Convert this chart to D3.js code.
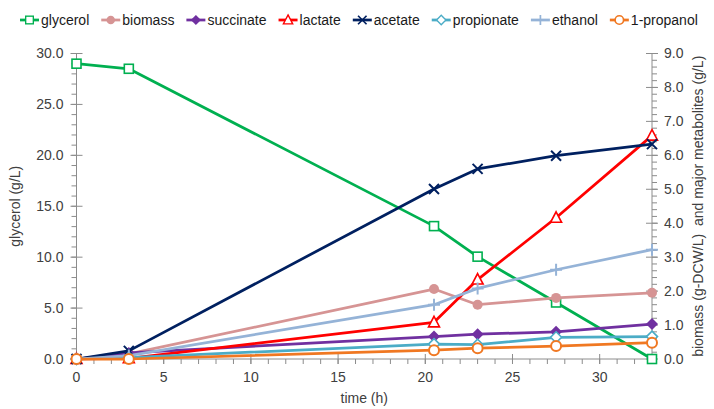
<!DOCTYPE html>
<html>
<head>
<meta charset="utf-8">
<script src="https://cdn.jsdelivr.net/npm/d3@7"></script>
<style>
  body { margin: 0; background: #fff; }
  text { font-family: "Liberation Sans", Arial, sans-serif; fill: #404040; }
</style>
</head>
<body>
<div id="chart"></div>
<script>
// time points (h)
var times = [0, 3, 20.5, 23, 27.5, 33];

// left axis
var glycerol = [29.0, 28.5, 13.05, 10.05, 5.55, 0.0];

// right axis (g/L)
var biomass    = [0.0, 0.15, 2.06, 1.60, 1.80, 1.95];
var succinate  = [0.0, 0.18, 0.66, 0.73, 0.80, 1.03];
var lactate    = [0.0, 0.02, 1.08, 2.34, 4.16, 6.58];
var acetate    = [0.0, 0.24, 5.01, 5.60, 5.99, 6.33];
var propionate = [0.0, 0.04, 0.44, 0.42, 0.64, 0.66];
var ethanol    = [0.0, 0.10, 1.60, 2.08, 2.63, 3.22];
var propanol   = [0.0, 0.0, 0.26, 0.32, 0.38, 0.48];

var seriesNames = ["glycerol", "biomass", "succinate", "lactate", "acetate", "propionate", "ethanol", "1-propanol"];
var leftTicks = [0, 5, 10, 15, 20, 25, 30];
var rightTicks = [0, 1, 2, 3, 4, 5, 6, 7, 8, 9];
var xTicks = [0, 5, 10, 15, 20, 25, 30];

var series = [
  { name: "glycerol", values: glycerol, axis: "left", color: "#00B050", marker: "square" },
  { name: "biomass", values: biomass, axis: "right", color: "#D69494", marker: "dot" },
  { name: "succinate", values: succinate, axis: "right", color: "#7030A0", marker: "diamondFill" },
  { name: "lactate", values: lactate, axis: "right", color: "#FF0000", marker: "triangle" },
  { name: "acetate", values: acetate, axis: "right", color: "#002060", marker: "x" },
  { name: "propionate", values: propionate, axis: "right", color: "#4BACC6", marker: "diamond" },
  { name: "ethanol", values: ethanol, axis: "right", color: "#95B3D7", marker: "plus" },
  { name: "1-propanol", values: propanol, axis: "right", color: "#F07822", marker: "circle" }
];

var W = 714, H = 409;
var margin = { top: 53.5, right: 62, bottom: 50, left: 76.5 };
var width = W - margin.left - margin.right,
    height = H - margin.top - margin.bottom;

var svg = d3.select("#chart").append("svg")
    .attr("width", W).attr("height", H);
var g = svg.append("g")
    .attr("transform", "translate(" + margin.left + "," + margin.top + ")");

var x = d3.scaleLinear().domain([0, 33]).range([0, width]);
var yL = d3.scaleLinear().domain([0, 30]).range([height, 0]);
var yR = d3.scaleLinear().domain([0, 9]).range([height, 0]);

var axisColor = "#8c8c8c";

// minor ticks
function minor(sel, orient, scale, vals) {
  sel.selectAll("line.minor").data(vals).enter().append("line")
    .attr("stroke", axisColor).attr("stroke-width", 1)
    .each(function (v) {
      var l = d3.select(this);
      if (orient == "left") l.attr("x1", -5).attr("x2", 0).attr("y1", scale(v)).attr("y2", scale(v));
      if (orient == "right") l.attr("x1", 0).attr("x2", 5).attr("y1", scale(v)).attr("y2", scale(v));
      if (orient == "bottom") l.attr("y1", 0).attr("y2", 5).attr("x1", scale(v)).attr("x2", scale(v));
    });
}

// x axis
var gx = g.append("g").attr("transform", "translate(0," + height + ")");
gx.append("line").attr("x1", 0).attr("x2", width).attr("stroke", axisColor);
minor(gx, "bottom", x, d3.range(0, 34, 1));
gx.selectAll("line.maj").data(xTicks).enter().append("line")
  .attr("x1", d => x(d)).attr("x2", d => x(d)).attr("y1", -5).attr("y2", 5)
  .attr("stroke", axisColor);
gx.selectAll("text").data(xTicks).enter().append("text")
  .attr("x", d => x(d)).attr("y", 23).attr("text-anchor", "middle")
  .style("font-size", "14px").text(d => d);

// left axis
var gl = g.append("g");
gl.append("line").attr("y1", 0).attr("y2", height).attr("stroke", axisColor);
minor(gl, "left", yL, d3.range(0, 31, 1));
gl.selectAll("line.maj").data(leftTicks).enter().append("line")
  .attr("y1", d => yL(d)).attr("y2", d => yL(d)).attr("x1", -6).attr("x2", 6)
  .attr("stroke", axisColor);
gl.selectAll("text").data(leftTicks).enter().append("text")
  .attr("x", -13).attr("y", d => yL(d)).attr("dy", "0.35em").attr("text-anchor", "end")
  .style("font-size", "14px").text(d => d.toFixed(1));

// right axis
var gr = g.append("g").attr("transform", "translate(" + width + ",0)");
gr.append("line").attr("y1", 0).attr("y2", height).attr("stroke", axisColor);
minor(gr, "right", yR, d3.range(0, 46, 1).map(d => d / 5));
gr.selectAll("line.maj").data(rightTicks).enter().append("line")
  .attr("y1", d => yR(d)).attr("y2", d => yR(d)).attr("x1", -6).attr("x2", 6)
  .attr("stroke", axisColor);
gr.selectAll("text").data(rightTicks).enter().append("text")
  .attr("x", 12).attr("y", d => yR(d)).attr("dy", "0.35em").attr("text-anchor", "start")
  .style("font-size", "14px").text(d => d.toFixed(1));

// axis titles
svg.append("text")
  .attr("transform", "translate(20," + (margin.top + height / 2) + ") rotate(-90)")
  .attr("text-anchor", "middle").style("font-size", "14px")
  .text("glycerol (g/L)");
svg.append("text")
  .attr("transform", "translate(703," + (margin.top + height / 2) + ") rotate(-90)")
  .attr("text-anchor", "middle").style("font-size", "14px").attr("xml:space", "preserve")
  .text("biomass (g-DCW/L)  and major metabolites (g/L)");
svg.append("text")
  .attr("x", margin.left + x(16.5)).attr("y", 403)
  .attr("text-anchor", "middle").style("font-size", "14px")
  .text("time (h)");

// markers
function drawMarker(sel, type, color) {
  var s = 4.5;
  if (type == "square") {
    sel.append("rect").attr("x", -s).attr("y", -s).attr("width", 2 * s).attr("height", 2 * s)
      .attr("fill", "#fff").attr("stroke", color).attr("stroke-width", 1.6);
  } else if (type == "dot") {
    sel.append("circle").attr("r", 5).attr("fill", color);
  } else if (type == "diamondFill") {
    sel.append("path").attr("d", "M0,-6L6,0L0,6L-6,0Z").attr("fill", color);
  } else if (type == "diamond") {
    sel.append("path").attr("d", "M0,-5.5L5.5,0L0,5.5L-5.5,0Z")
      .attr("fill", "#fff").attr("stroke", color).attr("stroke-width", 1.6);
  } else if (type == "triangle") {
    sel.append("path").attr("d", "M0,-6L5.5,4.5L-5.5,4.5Z")
      .attr("fill", "#fff").attr("stroke", color).attr("stroke-width", 1.6);
  } else if (type == "x") {
    sel.append("path").attr("d", "M-5,-5L5,5M-5,5L5,-5")
      .attr("stroke", color).attr("stroke-width", 2);
  } else if (type == "plus") {
    sel.append("path").attr("d", "M-6,0L6,0M0,-6L0,6")
      .attr("stroke", color).attr("stroke-width", 2);
  } else if (type == "circle") {
    sel.append("circle").attr("r", 5).attr("fill", "#fff")
      .attr("stroke", color).attr("stroke-width", 2);
  }
}

// series
series.forEach(function (s) {
  var ys = s.axis == "left" ? yL : yR;
  var pts = times.map((t, i) => [t, s.values[i]]);
  var line = d3.line().x(d => x(d[0])).y(d => ys(d[1]));
  g.append("path").datum(pts)
    .attr("fill", "none").attr("stroke", s.color).attr("stroke-width", 2.75)
    .attr("stroke-linejoin", "round")
    .attr("d", line);
  g.selectAll(null).data(pts).enter().append("g")
    .attr("transform", d => "translate(" + x(d[0]) + "," + ys(d[1]) + ")")
    .each(function () { drawMarker(d3.select(this), s.marker, s.color); });
});

// legend
var lg = svg.append("g").attr("transform", "translate(20,20)");
var lx = 0;
series.forEach(function (s) {
  var it = lg.append("g").attr("transform", "translate(" + lx + ",0)");
  it.append("line").attr("x1", 0).attr("x2", 19).attr("stroke", s.color).attr("stroke-width", 2.75);
  var m = it.append("g").attr("transform", "translate(9.5,0) scale(0.85)");
  drawMarker(m, s.marker, s.color);
  var t = it.append("text").attr("x", 21).attr("dy", "0.35em")
    .style("font-size", "14px").style("fill", "#1a1a1a").text(s.name);
  lx += 21 + t.node().getComputedTextLength() + 12;
});
</script>
</body>
</html>
